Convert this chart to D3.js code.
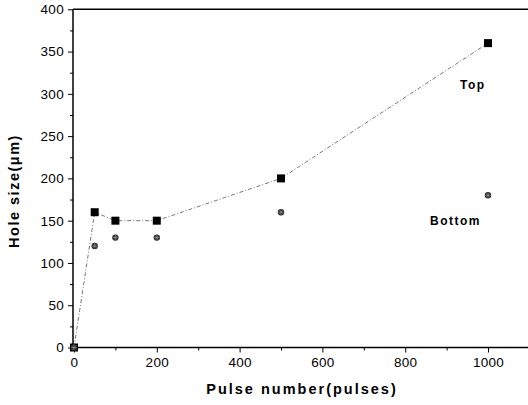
<!DOCTYPE html>
<html><head><meta charset="utf-8">
<script src="https://cdn.jsdelivr.net/npm/d3@7"></script>
<style>body{margin:0;background:#fff}svg{display:block}text{font-family:"Liberation Sans",Arial,sans-serif}</style>
</head><body><svg id="c" width="528" height="405"></svg>
<script>
const pulses = [0, 50, 100, 200, 500, 1000];
const topSize = [0, 160, 150, 150, 200, 360];
const bottomSize = [0, 120, 130, 130, 160, 180];
const xTicks = [0, 200, 400, 600, 800, 1000];
const yTicks = [0, 50, 100, 150, 200, 250, 300, 350, 400];

const svg = d3.select("#c");
const x = d3.scaleLinear().domain([0, 1000]).range([74, 488]);
const y = d3.scaleLinear().domain([0, 400]).range([347.5, 9.3]);
const x0 = 73;

// axes
const xAxis = d3.axisBottom(x).tickValues(xTicks).tickSize(5).tickPadding(5).tickFormat(d3.format("d"));
const gx = svg.append("g").attr("transform", `translate(0,${y(0)})`).call(xAxis);
gx.select(".domain").remove();
svg.append("line").attr("x1", x0).attr("x2", 528).attr("y1", y(0)).attr("y2", y(0)).attr("stroke", "#000").attr("stroke-width", 1.5);
svg.append("g").attr("transform", `translate(0,${y(0)})`).call(d3.axisBottom(x).tickValues([100,300,500,700,900,1100].filter(v=>x(v)<528)).tickSize(3).tickFormat(""))
  .select(".domain").remove();

const yAxis = d3.axisLeft(y).tickValues(yTicks).tickSize(5).tickPadding(4);
const gy = svg.append("g").attr("transform", `translate(${x0},0)`).call(yAxis);
gy.select(".domain").remove();
svg.append("g").attr("transform", `translate(${x0},0)`).call(d3.axisLeft(y).tickValues([25,75,125,175,225,275,325,375]).tickSize(3).tickFormat(""))
  .select(".domain").remove();
svg.append("line").attr("x1", x0).attr("x2", x0).attr("y1", y(400)).attr("y2", y(0)).attr("stroke", "#000").attr("stroke-width", 1.5);
svg.append("line").attr("x1", x0).attr("x2", 528).attr("y1", y(400)).attr("y2", y(400)).attr("stroke", "#000").attr("stroke-width", 1.5);

svg.selectAll(".tick text").attr("font-size", 13.5).attr("fill", "#000").attr("letter-spacing", 0.3);
svg.selectAll(".tick line").attr("stroke", "#000");

// line through top
const line = d3.line().x((d,i)=>x(pulses[i])).y(d=>y(d));
svg.append("path").attr("d", line(topSize)).attr("fill", "none").attr("stroke", "#666").attr("stroke-width", 0.9).attr("stroke-dasharray", "4,2,1,2");

// top markers
svg.selectAll(".top").data(topSize).join("rect")
  .attr("x", (d,i)=>x(pulses[i]) - 4).attr("y", d=>y(d) - 4)
  .attr("width", 8).attr("height", 8).attr("fill", "#000");

// bottom markers
const bg = svg.selectAll(".bot").data(bottomSize).join("g")
  .attr("transform", (d,i)=>`translate(${x(pulses[i])},${y(d)})`);
bg.append("circle").attr("r", 3.2).attr("fill", "#222");
bg.append("path").attr("d", "M-3,0H3M0,-3V3M-2,-2L2,2M-2,2L2,-2").attr("stroke", "#999").attr("stroke-width", 0.6);

// labels
svg.append("text").attr("x", 460).attr("y", 89).attr("font-size", 12).attr("font-weight", "bold").attr("letter-spacing", 1.5).text("Top");
svg.append("text").attr("x", 430).attr("y", 225).attr("font-size", 12).attr("font-weight", "bold").attr("letter-spacing", 1.5).text("Bottom");

svg.append("text").attr("x", 302).attr("y", 394).attr("text-anchor", "middle").attr("font-size", 14.5).attr("font-weight", "bold").attr("letter-spacing", 2).text("Pulse number(pulses)");
svg.append("text").attr("transform", "translate(19,191) rotate(-90)").attr("text-anchor", "middle").attr("font-size", 14.5).attr("font-weight", "bold").attr("letter-spacing", 1.5).text("Hole size(μm)");
</script></body></html>
